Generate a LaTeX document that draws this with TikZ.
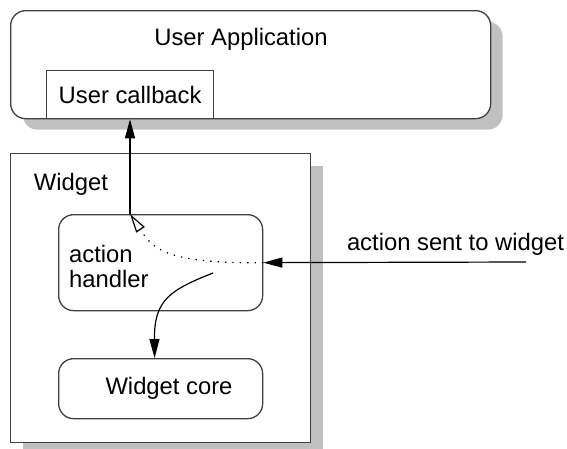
\documentclass[tikz,border=0pt]{standalone}
\usepackage{fontspec}
\setmainfont{Liberation Sans}
\usetikzlibrary{arrows.meta,shadows}
\definecolor{shadowgray}{HTML}{C0C0C0}
\definecolor{edgegray}{HTML}{404040}
\begin{document}
\begin{tikzpicture}[x=1pt,y=-1pt,
  font=\fontsize{23.8pt}{25pt}\selectfont,
  frame/.style={draw=edgegray, line width=1.3pt, fill=white, inner sep=0pt, anchor=north west},
  roundbox/.style={frame, rounded corners=15pt},
  shadowed/.style={drop shadow={shadow xshift=12pt, shadow yshift=-11pt, fill=shadowgray, opacity=1}},
  txt/.style={inner sep=0pt},
  flow/.style={line width=1.2pt, -{Triangle[length=19pt,width=10pt]}},
  hint/.style={line width=1.2pt, dash pattern=on 1.4pt off 6pt, -{Triangle[open,length=19pt,width=10pt]}}]
  \useasboundingbox (0,0) rectangle (567,448);

  % application container with its callback box
  \node[roundbox, shadowed, minimum width=480pt, minimum height=108pt] (app) at (10,10) {};
  \node[txt] (apptitle) at (241,39) {User Application};
  \node[frame, minimum width=167pt, minimum height=48pt] (cb) at (46,70) {};
  \node[txt] (cbtext) at (cb.center) {User callback};

  % widget container
  \node[frame, minimum width=300pt, minimum height=289pt,
        drop shadow={shadow xshift=12pt, shadow yshift=-12pt, fill=shadowgray, opacity=1}] (widget) at (10,153) {};
  \node[txt] (wtitle) at (71,184) {Widget};

  % inner parts of the widget
  \node[roundbox, minimum width=204pt, minimum height=96pt] (handler) at (58,214) {};
  \node[txt, anchor=west, align=left] (htext) at (69,266) {action\\handler};
  \node[roundbox, minimum width=204pt, minimum height=60pt] (core) at (58,358) {};
  \node[txt] (coretext) at (169,388) {Widget core};

  % incoming action
  \node[txt] (inlabel) at (455.5,244) {action sent to widget};
  \coordinate (src) at (526,262);
  \draw[flow] (src) -- (handler.east);

  % callback path to the user code
  \coordinate (tap) at ([xshift=72pt]handler.north west);
  \draw[flow] (tap) -- (tap |- cb.south);
  \draw[hint] (handler.east) .. controls (162,264) and (152,247) .. (tap);

  % dispatch into the widget core
  \coordinate (hs) at (213,273);
  \draw[flow] (hs) .. controls (170,290) and (154,300) .. ([xshift=-6pt]core.north);
\end{tikzpicture}
\end{document}
